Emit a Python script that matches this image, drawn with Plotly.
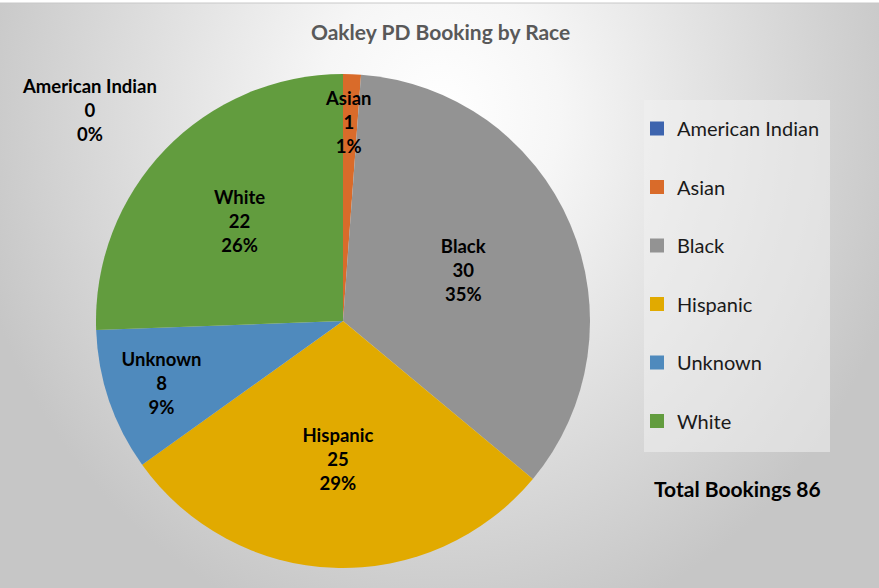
import base64
import plotly.graph_objects as go

# ---- data ----
races = ["American Indian", "Asian", "Black", "Hispanic", "Unknown", "White"]
bookings = [0, 1, 30, 25, 8, 22]
colors = ["#3d64ae", "#d96b2a", "#939393", "#e1aa00", "#4f8abd", "#629c3e"]
title_text = "Oakley PD Booking by Race"
total = sum(bookings)

W, H = 879, 588
FONT = "Lato, 'DejaVu Sans', sans-serif"
LBL = 18.5

# background radial gradient (as an inline SVG image)
svg = f'''<svg xmlns="http://www.w3.org/2000/svg" width="{W}" height="{H}">
<defs><radialGradient id="g" gradientUnits="userSpaceOnUse" cx="0" cy="0" r="1"
 gradientTransform="translate(440,110) scale(480,540)">
<stop offset="0" stop-color="#ffffff"/><stop offset="0.25" stop-color="#f6f6f6"/>
<stop offset="1" stop-color="#c6c6c6"/></radialGradient></defs>
<rect x="0" y="0" width="{W}" height="{H}" fill="url(#g)"/></svg>'''
bg_src = "data:image/svg+xml;base64," + base64.b64encode(svg.encode()).decode()

# only slices large enough get inside labels; small ones are annotated
inside = [v >= 5 for v in bookings]
textpos = ["inside" if f else "none" for f in inside]

fig = go.Figure()
cx, cy, R = 343, 321, 247
fig.add_trace(go.Pie(
    labels=races, values=bookings, sort=False, direction="clockwise", rotation=0,
    marker=dict(colors=colors, line=dict(width=0)),
    texttemplate="<b>%{label}</b><br><b>%{value}</b><br><b>%{percent:.0%}</b>",
    textposition=textpos, insidetextorientation="horizontal",
    textfont=dict(family=FONT, size=LBL, color="black"),
    showlegend=False, hoverinfo="label+value+percent",
    domain=dict(x=[(cx - R) / W, (cx + R) / W], y=[(H - cy - R) / H, (H - cy + R) / H]),
))

# legend entries (one group each so they can be spaced like the original)
for r, c in zip(races, colors):
    fig.add_trace(go.Scatter(
        x=[None], y=[None], mode="markers", name=r, legendgroup=r,
        marker=dict(symbol="square", size=14, color=c),
    ))

# annotations for slices too small for inside labels
small_pos = {"American Indian": (89, 110), "Asian": (348, 122)}
annotations = []
for r, v in zip(races, bookings):
    if r in small_pos:
        pct = v / total * 100
        x, y = small_pos[r]
        annotations.append(dict(
            x=x / W, y=1 - y / H, xref="paper", yref="paper", showarrow=False,
            xanchor="center", yanchor="middle",
            text=f"<b>{r}</b><br><b>{v}</b><br><b>{pct:.0f}%</b>",
            font=dict(family=FONT, size=LBL, color="black"), align="center",
        ))
annotations.append(dict(
    x=440 / W, y=1 - 31 / H, xref="paper", yref="paper", showarrow=False,
    xanchor="center", yanchor="middle",
    text=f"<b>{title_text}</b>", font=dict(family=FONT, size=21, color="#595959"),
))
annotations.append(dict(
    x=652 / W, y=1 - 488 / H, xref="paper", yref="paper", showarrow=False,
    xanchor="left", yanchor="middle", text=f"<b>Total Bookings {total}</b>",
    font=dict(family=FONT, size=21, color="black"),
))

fig.update_layout(
    width=W, height=H, margin=dict(l=0, r=0, t=0, b=0),
    paper_bgcolor="white", plot_bgcolor="rgba(0,0,0,0)",
    xaxis=dict(visible=False), yaxis=dict(visible=False),
    images=[dict(source=bg_src, xref="paper", yref="paper", x=0, y=1 - 3 / H,
                 sizex=1, sizey=1 - 3 / H, sizing="stretch", layer="below",
                 xanchor="left", yanchor="top")],
    shapes=[
        dict(type="line", xref="paper", yref="paper", x0=0, x1=1,
             y0=1 - 3 / H, y1=1 - 3 / H, line=dict(color="#c8c8c8", width=1)),
        dict(type="rect", xref="paper", yref="paper", x0=644 / W, x1=830 / W,
             y0=1 - 452 / H, y1=1 - 100 / H, fillcolor="rgba(240,240,240,0.55)",
             line=dict(width=0), layer="below"),
    ],
    legend=dict(x=637 / W, y=1 - 109 / H, xanchor="left", yanchor="top",
                bgcolor="rgba(0,0,0,0)", font=dict(family=FONT, size=20, color="#1a1a1a"),
                tracegroupgap=29.5, itemclick=False),
    annotations=annotations,
    font=dict(family=FONT),
)

fig.write_html("out.html", config={"displayModeBar": False},
               post_script="document.body.style.margin='0';")
